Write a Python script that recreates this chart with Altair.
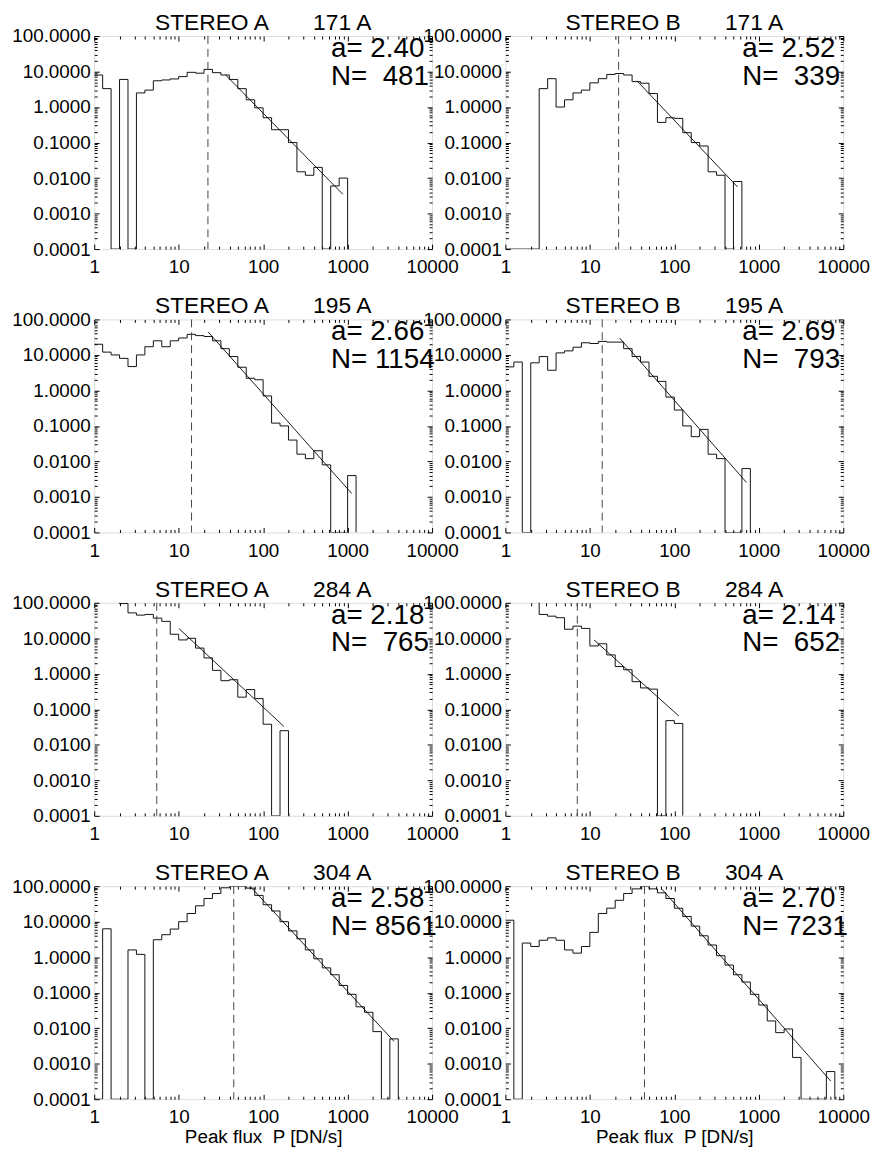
import altair as alt
import pandas as pd

FONT = "Liberation Sans"
NB = "\u00a0"

# ---- histogram bins: log-spaced, 0.1 dex wide, first edge at 1 DN/s ----
bin_width_dex = 0.1
y_floor = 1e-4            # empty bins drawn down to the axis floor

# ---- panel titles / annotations ----
titles = ["STEREO A", "STEREO B", "STEREO A", "STEREO B",
          "STEREO A", "STEREO B", "STEREO A", "STEREO B"]
waves = ["171 A", "171 A", "195 A", "195 A", "284 A", "284 A", "304 A", "304 A"]
slopes = ["2.40", "2.52", "2.66", "2.69", "2.18", "2.14", "2.58", "2.70"]
counts_n = ["481", "339", "1154", "793", "765", "652", "8561", "7231"]

# ---- histogram values (per bin, 0 = empty) ----
a171 = [8.0, 3.3, 0, 6.0, 0, 2.5, 3.0, 5.5, 5.8, 6.2, 7.2, 9.5, 9.0, 11.5, 9.3,
        8.0, 6.0, 3.3, 1.6, 0.95, 0.5, 0.23, 0.23, 0.1, 0.015, 0.012, 0.02, 0,
        0.006, 0.01]
b171 = [0, 0, 0, 0, 3.3, 6.3, 1.0, 1.6, 2.5, 3.0, 4.8, 6.3, 8.3, 8.8, 8.0, 5.2,
        4.7, 2.4, 0.37, 0.5, 0.48, 0.19, 0.1, 0.08, 0.015, 0.012, 0, 0.008]
a195 = [20, 12, 10, 8, 4.7, 10, 17, 25, 17, 25, 30, 38, 35, 33, 25, 15, 9, 4.5,
        2.2, 2.0, 0.7, 0.12, 0.1, 0.04, 0.016, 0.012, 0.02, 0.008, 0, 0, 0.004]
b195 = [4.6, 6.3, 0, 6.0, 9.0, 3.7, 11.4, 13, 16.5, 22, 21, 24, 23, 23, 15, 9,
        6.3, 2.5, 1.8, 0.65, 0.28, 0.1, 0.05, 0.08, 0.016, 0.012, 0, 0, 0.0063]
a284 = [200, 150, 120, 95, 52, 45, 47, 37, 30, 13, 9, 10, 5.3, 2.8, 1.25, 0.64,
        0.68, 0.22, 0.36, 0.2, 0.038, 0, 0.025]
b284 = [300, 250, 200, 150, 47, 42, 38, 18, 22, 19, 6.1, 7.0, 3.4, 1.6, 1.3, 0.6,
        0.4, 0.37, 0, 0.048, 0.04]
a304 = [0, 6.3, 0, 0, 1.6, 1.2, 0, 3.1, 4.3, 6.2, 10, 17, 28, 45, 62, 90, 100,
        100, 88, 55, 30, 20, 10, 5.5, 3.3, 1.6, 0.9, 0.5, 0.32, 0.16, 0.09, 0.04,
        0.028, 0.008, 0, 0.005]
b304 = [11, 0, 2.5, 2.0, 3.0, 3.5, 3.0, 1.6, 1.3, 2.0, 5.0, 17, 24, 40, 62, 84,
        100, 84, 65, 45, 24, 14, 7.5, 4.0, 2.2, 1.1, 0.6, 0.32, 0.2, 0.09, 0.045,
        0.016, 0.0075, 0.0095, 0.0015, 0, 0, 0, 0.0006]
hists = [a171, b171, a195, b195, a284, b284, a304, b304]

# ---- dashed vertical line (peak of distribution) ----
peaks = [22.2, 21.9, 14.2, 14.0, 5.5, 7.1, 44.9, 44.3]

# ---- power-law fit line end points: (x1, y1, x2, y2) ----
fits = [(35.8, 8.1, 877, 0.0035),
        (36.0, 5.5, 561, 0.0056),
        (22.4, 44.0, 1119, 0.00125),
        (22.5, 29.9, 715, 0.00256),
        (10.1, 18.7, 176, 0.033),
        (11.2, 9.0, 113, 0.065),
        (68.5, 105.0, 3548, 0.00425),
        (70.7, 84.0, 7100, 0.000325)]

# ---- axis ticks ----
x_major = [1, 10, 100, 1000, 10000]
x_minor = [m * 10 ** e for e in range(0, 4) for m in range(2, 10)]
y_major = [1e-4, 1e-3, 1e-2, 1e-1, 1, 10, 100]
y_minor = [m * 10.0 ** e for e in range(-4, 2) for m in range(2, 10)]
x_title = "Peak flux" + NB + " P [DN/s]"

W, H = 341, 215
xs = alt.Scale(type="log", domain=[1, 10000], nice=False)
ys = alt.Scale(type="log", domain=[1e-4, 100], nice=False)
anchor = pd.DataFrame({"x": [1.0], "y": [1.0]})


def axis(orient, values, size, labels=False, fmt=None, pad=0, title=None):
    kw = dict(orient=orient, values=values, tickSize=size, offset=-size,
              domain=False, grid=False, ticks=True, tickColor="black",
              tickWidth=1, labels=labels, title=title, minExtent=0)
    if labels:
        kw.update(format=fmt, labelFont=FONT, labelFontSize=19,
                  labelColor="black", labelPadding=pad, labelFlush=False,
                  labelOverlap=False, labelBound=False)
    else:
        kw.update(maxExtent=size)
    if title:
        kw.update(titleFont=FONT, titleFontSize=19, titleFontWeight="normal",
                  titleColor="black", titlePadding=1)
    return alt.Axis(**kw)


def axis_layer(xa, ya):
    return alt.Chart(anchor).mark_point(opacity=0).encode(
        x=alt.X("x:Q", scale=xs, axis=xa),
        y=alt.Y("y:Q", scale=ys, axis=ya))


def panel(i):
    counts = hists[i]
    n = len(counts)
    xs_edges = [10 ** (k * bin_width_dex) for k in range(n + 1)]
    ys_vals = [max(v, y_floor) for v in counts] + [y_floor]
    hist_df = pd.DataFrame({"x": xs_edges, "y": ys_vals})
    x1, y1, x2, y2 = fits[i]
    fit_df = pd.DataFrame({"x": [x1, x2], "y": [y1, y2]})
    peak_df = pd.DataFrame({"p": [peaks[i]]})
    bottom_row = i >= 6
    n_text = "N=" + NB * (5 - len(counts_n[i])) + counts_n[i]

    layers = [
        axis_layer(axis("bottom", x_major, 5, True, "d", 9,
                        x_title if bottom_row else None),
                   axis("left", y_major, 5, True, ".4f", 4)),
        axis_layer(axis("bottom", x_minor, 3), axis("left", y_minor, 3)),
        axis_layer(axis("top", x_major, 5), axis("right", y_major, 5)),
        axis_layer(axis("top", x_minor, 3), axis("right", y_minor, 3)),
        alt.Chart(hist_df).mark_line(interpolate="step-after", color="#111",
                                     strokeWidth=1, clip=True).encode(
            x=alt.X("x:Q", scale=xs, axis=None),
            y=alt.Y("y:Q", scale=ys, axis=None)),
        alt.Chart(fit_df).mark_line(color="black", strokeWidth=0.9,
                                    clip=True).encode(
            x=alt.X("x:Q", scale=xs, axis=None),
            y=alt.Y("y:Q", scale=ys, axis=None)),
        alt.Chart(peak_df).mark_rule(color="#444", strokeWidth=1,
                                     strokeDash=[8, 5]).encode(
            x=alt.X("p:Q", scale=xs, axis=None)),
        alt.Chart(pd.DataFrame({"t": ["a=" + NB + slopes[i]]})).mark_text(
            align="left", baseline="alphabetic", font=FONT, fontSize=28,
            color="black").encode(x=alt.value(W - 102), y=alt.value(21),
                                  text="t:N"),
        alt.Chart(pd.DataFrame({"t": [n_text]})).mark_text(
            align="left", baseline="alphabetic", font=FONT, fontSize=28,
            color="black").encode(x=alt.value(W - 102), y=alt.value(49),
                                  text="t:N"),
    ]
    title = alt.TitleParams(titles[i] + NB * 7 + waves[i], font=FONT,
                            fontSize=23, fontWeight="normal", color="black",
                            anchor="middle", frame="group", offset=-26,
                            baseline="alphabetic")
    return alt.layer(*layers).properties(width=W, height=H, title=title) \
        .resolve_scale(x="shared", y="shared") \
        .resolve_axis(x="independent", y="independent")


chart = alt.concat(*[panel(i) for i in range(8)], columns=2,
                   spacing={"row": 71, "column": 74}, bounds="flush") \
    .properties(padding={"left": 3, "top": -2, "right": 2, "bottom": 1}) \
    .configure_view(stroke="black", strokeWidth=1) \
    .configure(background="white")

chart.save("out.html", embed_options={"renderer": "svg", "actions": False})
